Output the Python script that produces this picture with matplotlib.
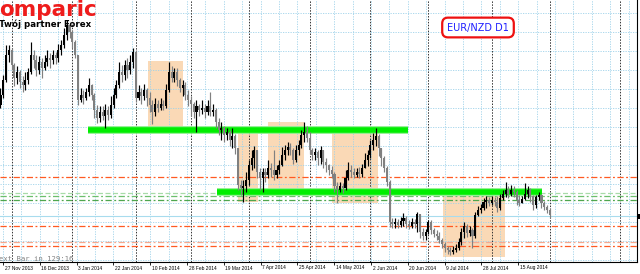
import matplotlib
matplotlib.use("Agg")
import matplotlib.pyplot as plt
from matplotlib.patches import Rectangle
import numpy as np

# EUR/NZD D1, one candle per trading day (26 Nov 2013 .. 1 Sep 2014)
first_open = 1.6475
closes = [
    1.6525, 1.6600, 1.6725, 1.6750, 1.6675, 1.6610, 1.6640, 1.6590, 1.6575, 1.6600,
    1.6640, 1.6725, 1.6700, 1.6650, 1.6690, 1.6660, 1.6690, 1.6710, 1.6700, 1.6725,
    1.6710, 1.6750, 1.6775, 1.6825, 1.6875, 1.6840, 1.6790, 1.6725, 1.6500, 1.6525,
    1.6510, 1.6540, 1.6575, 1.6525, 1.6450, 1.6410, 1.6440, 1.6420, 1.6450, 1.6425,
    1.6475, 1.6525, 1.6575, 1.6640, 1.6625, 1.6675, 1.6650, 1.6690, 1.6740, 1.6510,
    1.6540, 1.6520, 1.6550, 1.6510, 1.6475, 1.6440, 1.6480, 1.6460, 1.6480, 1.6470,
    1.6550, 1.6640, 1.6610, 1.6640, 1.6600, 1.6560, 1.6575, 1.6525, 1.6500, 1.6480,
    1.6440, 1.6470, 1.6450, 1.6460, 1.6440, 1.6470, 1.6440, 1.6450, 1.6390, 1.6350,
    1.6360, 1.6325, 1.6340, 1.6300, 1.6320, 1.6260, 1.6075, 1.6060, 1.6070, 1.6100,
    1.6175, 1.6210, 1.6250, 1.6140, 1.6110, 1.6140, 1.6125, 1.6160, 1.6150, 1.6125,
    1.6150, 1.6175, 1.6225, 1.6250, 1.6265, 1.6250, 1.6200, 1.6250, 1.6275, 1.6325,
    1.6340, 1.6310, 1.6250, 1.6225, 1.6240, 1.6210, 1.6250, 1.6190, 1.6175, 1.6150,
    1.6130, 1.6070, 1.6050, 1.6070, 1.6060, 1.6110, 1.6150, 1.6140, 1.6125, 1.6140,
    1.6130, 1.6160, 1.6200, 1.6225, 1.6275, 1.6300, 1.6320, 1.6260, 1.6210, 1.6160,
    1.6090, 1.5890, 1.5880, 1.5890, 1.5875, 1.5895, 1.5910, 1.5880, 1.5870, 1.5890,
    1.5880, 1.5930, 1.5840, 1.5820, 1.5840, 1.5890, 1.5850, 1.5830, 1.5820, 1.5800,
    1.5780, 1.5760, 1.5750, 1.5740, 1.5750, 1.5760, 1.5790, 1.5840, 1.5870, 1.5835,
    1.5850, 1.5820, 1.5925, 1.5950, 1.5960, 1.5990, 1.6000, 1.5985, 1.6000, 1.5990,
    1.5960, 1.6010, 1.6030, 1.6050, 1.6030, 1.6050, 1.6040, 1.6000, 1.5985, 1.6005,
    1.6030, 1.6050, 1.6020, 1.5975, 1.6015, 1.6025, 1.5985, 1.5965, 1.5950, 1.5925,
]
highs = [
    1.6560, 1.6625, 1.6775, 1.6775, 1.6760, 1.6685, 1.6670, 1.6650, 1.6620, 1.6640,
    1.6660, 1.6790, 1.6750, 1.6725, 1.6720, 1.6710, 1.6725, 1.6750, 1.6735, 1.6750,
    1.6740, 1.6780, 1.6800, 1.6860, 1.6900, 1.6880, 1.6850, 1.6800, 1.6725, 1.6560,
    1.6550, 1.6560, 1.6610, 1.6580, 1.6535, 1.6475, 1.6470, 1.6470, 1.6480, 1.6470,
    1.6520, 1.6560, 1.6600, 1.6690, 1.6675, 1.6700, 1.6710, 1.6725, 1.6760, 1.6750,
    1.6575, 1.6560, 1.6580, 1.6560, 1.6540, 1.6500, 1.6510, 1.6500, 1.6510, 1.6500,
    1.6580, 1.6690, 1.6670, 1.6660, 1.6660, 1.6610, 1.6600, 1.6590, 1.6550, 1.6520,
    1.6490, 1.6500, 1.6480, 1.6500, 1.6480, 1.6500, 1.6540, 1.6480, 1.6460, 1.6410,
    1.6390, 1.6370, 1.6360, 1.6350, 1.6360, 1.6330, 1.6260, 1.6100, 1.6100, 1.6140,
    1.6200, 1.6250, 1.6270, 1.6250, 1.6160, 1.6160, 1.6160, 1.6200, 1.6185, 1.6250,
    1.6175, 1.6200, 1.6265, 1.6275, 1.6290, 1.6285, 1.6260, 1.6275, 1.6300, 1.6350,
    1.6390, 1.6370, 1.6340, 1.6260, 1.6260, 1.6250, 1.6270, 1.6250, 1.6210, 1.6180,
    1.6170, 1.6140, 1.6090, 1.6090, 1.6085, 1.6150, 1.6190, 1.6175, 1.6160, 1.6160,
    1.6165, 1.6180, 1.6235, 1.6250, 1.6300, 1.6335, 1.6360, 1.6330, 1.6260, 1.6220,
    1.6170, 1.6100, 1.5910, 1.5910, 1.5905, 1.5915, 1.5935, 1.5920, 1.5900, 1.5910,
    1.5905, 1.5940, 1.5930, 1.5860, 1.5855, 1.5900, 1.5900, 1.5860, 1.5850, 1.5840,
    1.5810, 1.5790, 1.5770, 1.5765, 1.5770, 1.5780, 1.5810, 1.5860, 1.5890, 1.5880,
    1.5870, 1.5860, 1.5940, 1.5970, 1.5980, 1.6010, 1.6020, 1.6015, 1.6020, 1.6015,
    1.6020, 1.6030, 1.6050, 1.6090, 1.6070, 1.6075, 1.6070, 1.6050, 1.6025, 1.6020,
    1.6085, 1.6070, 1.6060, 1.6025, 1.6025, 1.6040, 1.6030, 1.5995, 1.5975, 1.5960,
]
lows = [
    1.6460, 1.6510, 1.6590, 1.6690, 1.6650, 1.6570, 1.6580, 1.6560, 1.6540, 1.6550,
    1.6580, 1.6630, 1.6660, 1.6620, 1.6630, 1.6610, 1.6650, 1.6670, 1.6660, 1.6680,
    1.6680, 1.6690, 1.6725, 1.6760, 1.6800, 1.6810, 1.6760, 1.6710, 1.6475, 1.6490,
    1.6480, 1.6500, 1.6520, 1.6500, 1.6410, 1.6385, 1.6390, 1.6400, 1.6360, 1.6400,
    1.6410, 1.6460, 1.6510, 1.6560, 1.6590, 1.6600, 1.6610, 1.6630, 1.6660, 1.6490,
    1.6500, 1.6480, 1.6500, 1.6470, 1.6440, 1.6380, 1.6420, 1.6440, 1.6450, 1.6450,
    1.6460, 1.6540, 1.6590, 1.6590, 1.6570, 1.6540, 1.6520, 1.6500, 1.6470, 1.6420,
    1.6410, 1.6340, 1.6420, 1.6430, 1.6410, 1.6425, 1.6420, 1.6420, 1.6360, 1.6325,
    1.6300, 1.6290, 1.6300, 1.6270, 1.6260, 1.6230, 1.6050, 1.6025, 1.5990, 1.6040,
    1.6075, 1.6150, 1.6160, 1.6110, 1.6050, 1.6040, 1.6090, 1.6110, 1.6115, 1.6100,
    1.6110, 1.6130, 1.6170, 1.6200, 1.6225, 1.6225, 1.6180, 1.6190, 1.6225, 1.6260,
    1.6290, 1.6290, 1.6230, 1.6200, 1.6200, 1.6175, 1.6180, 1.6160, 1.6140, 1.6125,
    1.6110, 1.6040, 1.5985, 1.6040, 1.6035, 1.6050, 1.6100, 1.6115, 1.6110, 1.6115,
    1.6110, 1.6115, 1.6160, 1.6170, 1.6210, 1.6250, 1.6270, 1.6220, 1.6170, 1.6140,
    1.6070, 1.5865, 1.5860, 1.5860, 1.5860, 1.5865, 1.5870, 1.5860, 1.5855, 1.5860,
    1.5860, 1.5840, 1.5810, 1.5800, 1.5800, 1.5830, 1.5830, 1.5815, 1.5800, 1.5785,
    1.5760, 1.5740, 1.5730, 1.5725, 1.5730, 1.5740, 1.5750, 1.5775, 1.5810, 1.5815,
    1.5820, 1.5760, 1.5810, 1.5920, 1.5935, 1.5950, 1.5960, 1.5970, 1.5975, 1.5970,
    1.5940, 1.5950, 1.6000, 1.6015, 1.6010, 1.6020, 1.6015, 1.5975, 1.5970, 1.5985,
    1.6000, 1.6010, 1.5990, 1.5950, 1.5960, 1.6000, 1.5960, 1.5950, 1.5935, 1.5910,
]

date_labels = ["27 Nov 2013", "16 Dec 2013", "3 Jan 2014", "22 Jan 2014", "10 Feb 2014",
               "28 Feb 2014", "19 Mar 2014", "7 Apr 2014", "25 Apr 2014", "14 May 2014",
               "2 Jun 2014", "20 Jun 2014", "9 Jul 2014", "28 Jul 2014", "15 Aug 2014"]

# month separators (bar index)
separators = [4, 26, 49, 69, 90, 112, 134, 155, 178, 199, 224.5]

# drawn objects: horizontal levels
red_levels = [1.6115, 1.5870, 1.5770]
red_light_levels = [1.57925]
green_levels = [1.60375, 1.6020, 1.6000]
# thick green trendlines: (start bar, end bar, price)
green_bars = [(31.7, 147.6, 1.6350), (78.4, 196.2, 1.6040)]
# boxes: (start bar, end bar, top, bottom)
boxes = [(53.4, 66.1, 1.6695, 1.6360),
         (86.0, 93.3, 1.6335, 1.5990),
         (96.9, 110.0, 1.6390, 1.6050),
         (120.1, 136.8, 1.6335, 1.5985),
         (160.3, 182.8, 1.6020, 1.5715)]
bid = 1.5920

opens = [first_open] + closes[:-1]
n = len(closes)
idx = np.arange(n)
o = np.array(opens)
c = np.array(closes)
h = np.maximum(np.array(highs), np.maximum(o, c))
l = np.minimum(np.array(lows), np.minimum(o, c))

fig = plt.figure(figsize=(6.4, 2.74), dpi=100)
ax = fig.add_axes([0, 12 / 274, 637 / 640, 262 / 274])
ax.set_xlim(-0.181, 230.6)
ax.set_ylim(1.569, 1.700)

# grid (pixel based like MT4)
grid_col = '#9fd2ea'
for k in range(14):
    ax.axhline(1.69335 - 0.0095 * k, color=grid_col, lw=0.6, ls=(0, (1.5, 1.5)), zorder=1)
vgrid = 0.906 + 20 / 3 * np.arange(35)
for x in vgrid:
    ax.axvline(x, color=grid_col, lw=0.6, ls=(0, (1.5, 1.5)), zorder=1)
for x in separators:
    ax.axvline(x, color='#333333', lw=0.7, ls=(0, (1.5, 1.5)), zorder=1.5)

for x0, x1, top, bot in boxes:
    ax.add_patch(Rectangle((x0, bot), x1 - x0, top - bot, facecolor='#fad9b6',
                           edgecolor='none', zorder=0.5))

for y in red_levels:
    ax.axhline(y, color='#ff5a22', lw=0.9, ls=(0, (5, 2, 1.5, 2)), zorder=2)
for y in red_light_levels:
    ax.axhline(y, color='#f6a88e', lw=0.9, ls=(0, (5, 2, 1.5, 2)), zorder=2)
ax.axhline(green_levels[0], color='#a8dca8', lw=0.9, ls=(0, (4, 2)), zorder=2)
ax.axhline(green_levels[1], color='#6cbf6c', lw=0.9, ls=(0, (5, 2, 1.5, 2)), zorder=2)
ax.axhline(green_levels[2], color='#4ea64e', lw=0.9, ls=(0, (5, 2, 1.5, 2)), zorder=2)
ax.axhline(bid, color='#a8dcee', lw=0.8, zorder=2)

for x0, x1, y in green_bars:
    ax.plot([x0, x1], [y, y], color='#8cf08c', lw=5.6, solid_capstyle='butt', zorder=3)
    ax.plot([x0, x1], [y, y], color='#00ee00', lw=4.0, solid_capstyle='butt', zorder=3.1)

# candles
up = c <= o
cols = np.where(up, '#808080', '#000000')
ax.vlines(idx, l, h, colors=cols, lw=0.85, zorder=4)
body = np.maximum(np.abs(c - o), 0.00025)
ax.bar(idx, body, bottom=np.minimum(o, c), width=0.75, color=cols, linewidth=0, zorder=4.1)

# axes look
for s in ['top', 'left']:
    ax.spines[s].set_visible(False)
ax.spines['bottom'].set_linewidth(0.8)
ax.spines['right'].set_linewidth(0.8)
ax.set_yticks([])
lab_pos = vgrid[0:29:2]
ax.set_xticks(lab_pos)
ax.tick_params(axis='x', direction='out', length=2.2, width=0.6, labelbottom=False)
for x, t in zip(lab_pos, date_labels):
    ax.annotate(t, xy=(x, 0), xycoords=('data', 'axes fraction'), xytext=(1.5, -3.5),
                textcoords='offset pixels', ha='left', va='top', fontsize=3.5,
                family='Liberation Sans', color='black', annotation_clip=False)

# texts
fig.text(-1 / 640, 1 - 16 / 274, 'omparic', fontsize=15.5, fontweight='bold',
         family='DejaVu Sans', color='#ee1c1c', ha='left', va='baseline')
fig.text(-1 / 640, 1 - 27 / 274, 'Twój partner Forex', fontsize=6.2, fontweight='bold',
         family='DejaVu Sans', color='black', ha='left', va='baseline')
fig.text(478 / 640, 1 - 27.5 / 274, 'EUR/NZD D1', fontsize=7, family='DejaVu Sans',
         color='#1e1eff', ha='center', va='center',
         bbox=dict(boxstyle='round,pad=0.5,rounding_size=0.6', facecolor='white',
                   edgecolor='#ee1111', linewidth=1.6))
fig.text(-1 / 640, 1 - 261 / 274, 'ext Bar in 129:16', fontsize=5.2,
         family='DejaVu Sans Mono', color='#808080', ha='left', va='baseline')
fig.patches.append(Rectangle((637 / 640, 1 - 218.5 / 274), 3 / 640, 5 / 274,
                             transform=fig.transFigure, facecolor='black', edgecolor='none'))

fig.savefig('out.png', dpi=100)
